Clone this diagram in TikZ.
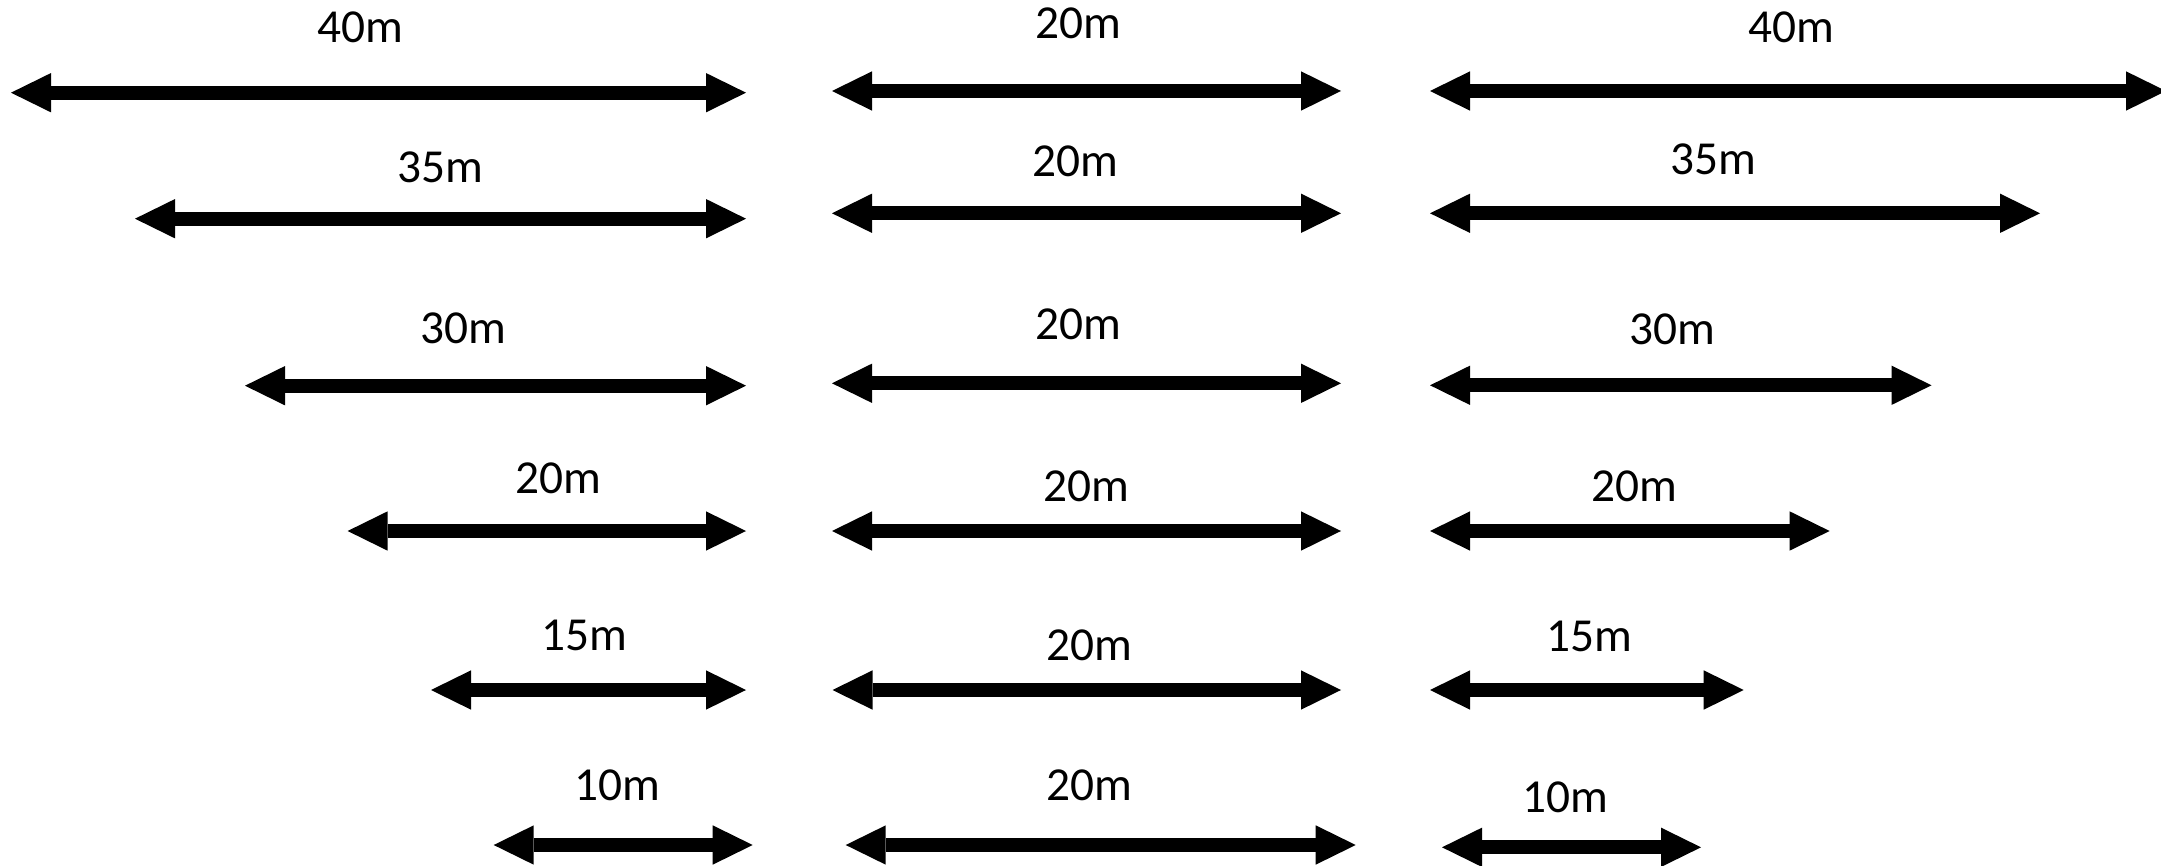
\documentclass[tikz,border=0pt]{standalone}
\usepackage{fontspec}
\setmainfont{Carlito}
\usetikzlibrary{arrows.meta}
\tikzset{
  dimarrow/.style={line width=4.1pt,
    arrows={Triangle[length=12pt,width=11.8pt,line width=0pt]-Triangle[length=12pt,width=11.8pt,line width=0pt]}},
  dimlabel/.style={anchor=base,inner sep=0pt,font=\fontsize{14.2}{16}\selectfont}
}
\begin{document}
\begin{tikzpicture}[x=0.3pt,y=-0.3pt]
\useasboundingbox (0,0) rectangle (2161,866);

% ---- left column ----
\coordinate (l1a) at (11,92.7);    \coordinate (l1b) at (746,92.7);
\coordinate (l2a) at (135,218.7);  \coordinate (l2b) at (746,218.7);
\coordinate (l3a) at (245,385.7);  \coordinate (l3b) at (746,385.7);
\coordinate (l4a) at (347.6,531);  \coordinate (l4b) at (746,531);
\coordinate (l5a) at (431,690);    \coordinate (l5b) at (746,690);
\coordinate (l6a) at (493.7,845);  \coordinate (l6b) at (752.7,845);

% ---- middle column ----
\coordinate (m1a) at (832,91);     \coordinate (m1b) at (1341,91);
\coordinate (m2a) at (832,213.3);  \coordinate (m2b) at (1341,213.3);
\coordinate (m3a) at (832,383.3);  \coordinate (m3b) at (1341,383.3);
\coordinate (m4a) at (832,531);    \coordinate (m4b) at (1341,531);
\coordinate (m5a) at (832.5,690);  \coordinate (m5b) at (1341,690);
\coordinate (m6a) at (845.7,845);  \coordinate (m6b) at (1355.7,845);

% ---- right column ----
\coordinate (r1a) at (1430,91);    \coordinate (r1b) at (2166,91);
\coordinate (r2a) at (1430,213.3); \coordinate (r2b) at (2040,213.3);
\coordinate (r3a) at (1430,385.3); \coordinate (r3b) at (1931.5,385.3);
\coordinate (r4a) at (1430,531);   \coordinate (r4b) at (1829.6,531);
\coordinate (r5a) at (1430,690);   \coordinate (r5b) at (1743.7,690);
\coordinate (r6a) at (1442,847.3); \coordinate (r6b) at (1701,847.3);

\foreach \c in {l,m,r}{
  \foreach \i in {1,...,6}{
    \draw[dimarrow] (\c\i a) -- (\c\i b);
  }
}

% ---- labels ----
\node[dimlabel] (tl1) at (360,42.7)    {40m};
\node[dimlabel] (tl2) at (440,182.3)   {35m};
\node[dimlabel] (tl3) at (463.6,343.3) {30m};
\node[dimlabel] (tl4) at (558,493.3)   {20m};
\node[dimlabel] (tl5) at (584.5,650)   {15m};
\node[dimlabel] (tl6) at (617,800.7)   {10m};

\node[dimlabel] (tm1) at (1078,38.3)   {20m};
\node[dimlabel] (tm2) at (1075,176.7)  {20m};
\node[dimlabel] (tm3) at (1078,340)    {20m};
\node[dimlabel] (tm4) at (1086,501.7)  {20m};
\node[dimlabel] (tm5) at (1089.6,660.7){20m};
\node[dimlabel] (tm6) at (1089.6,800)  {20m};

\node[dimlabel] (tr1) at (1791,42.7)   {40m};
\node[dimlabel] (tr2) at (1713,175)    {35m};
\node[dimlabel] (tr3) at (1672,344.3)  {30m};
\node[dimlabel] (tr4) at (1634.5,501.7){20m};
\node[dimlabel] (tr5) at (1589,651)    {15m};
\node[dimlabel] (tr6) at (1565.8,812.3){10m};
\end{tikzpicture}
\end{document}
